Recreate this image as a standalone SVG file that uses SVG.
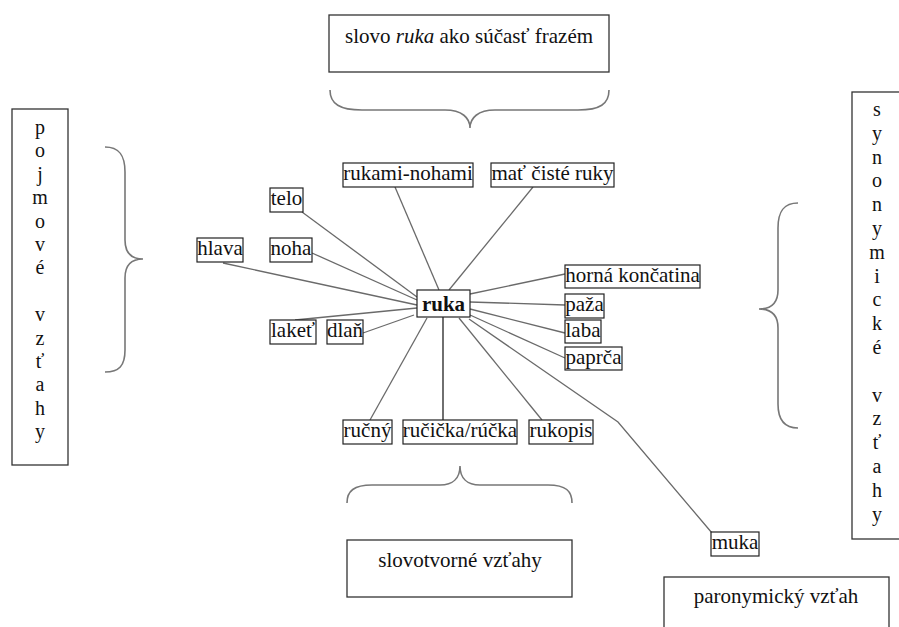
<svg xmlns="http://www.w3.org/2000/svg" width="899" height="627" viewBox="0 0 899 627">
<style>
text{font-size:21px;fill:#111;text-anchor:middle}
.box{fill:#fff;stroke:#222;stroke-width:1.2}
.big{fill:#fff;stroke:#333;stroke-width:1.3}
.ln{stroke:#6a6a6a;stroke-width:1.3;fill:none}
.dk{stroke:#222;stroke-width:1.3;fill:none}
.br{stroke:#777;stroke-width:1.6;fill:none}
.v{font-size:20px}
</style>
<rect width="899" height="627" fill="#fff"/>
<g id="connectors">
<line class="ln" x1="302" y1="212" x2="417" y2="297"/>
<line class="ln" x1="312" y1="253" x2="417" y2="300"/>
<line class="ln" x1="223" y1="263" x2="417" y2="305"/>
<line class="ln" x1="295" y1="320" x2="417" y2="308"/>
<line class="ln" x1="363" y1="333" x2="414" y2="315"/>
<line class="ln" x1="395" y1="187" x2="439" y2="290"/>
<line class="ln" x1="533" y1="187" x2="449" y2="290"/>
<line class="ln" x1="470" y1="294" x2="565" y2="274"/>
<line class="ln" x1="470" y1="302" x2="565" y2="305"/>
<line class="ln" x1="470" y1="309" x2="565" y2="333"/>
<line class="ln" x1="470" y1="315" x2="565" y2="358"/>
<line class="ln" x1="427" y1="318" x2="370" y2="420"/>
<line class="dk" x1="443" y1="317" x2="443" y2="420"/>
<line class="ln" x1="459" y1="318" x2="542" y2="420"/>
<polyline class="ln" points="469,319 618,422 712,533"/>
</g>
<g font-family="'Liberation Serif', 'Times New Roman', 'DejaVu Serif', serif">
<g id="frazem-box">
<rect class="big" x="329" y="15" width="280" height="57"/>
<text x="469" y="43">slovo <tspan font-style="italic">ruka</tspan> ako súčasť frazém</text>
</g>
<g id="brace-top"><path class="br" d="M330,90 C330,104 340,110 362,110 L445,110 C462,110 470,118 470,128 C470,118 478,110 495,110 L578,110 C600,110 609,104 609,90"/></g>
<g id="pojmove-box">
<rect class="big" x="12" y="109" width="56" height="356"/>
<text class="v" x="40" y="134">p</text>
<text class="v" x="40" y="157.4">o</text>
<text class="v" x="40" y="180.8">j</text>
<text class="v" x="40" y="204.2">m</text>
<text class="v" x="40" y="227.6">o</text>
<text class="v" x="40" y="251">v</text>
<text class="v" x="40" y="274.4">é</text>
<text class="v" x="40" y="321.2">v</text>
<text class="v" x="40" y="344.6">z</text>
<text class="v" x="40" y="368">ť</text>
<text class="v" x="40" y="391.4">a</text>
<text class="v" x="40" y="414.8">h</text>
<text class="v" x="40" y="438.2">y</text>
</g>
<g id="brace-left"><path class="br" d="M105,147 C119,147 125,155 125,172 L125,240 C125,253 131,259 143,259 C131,259 125,265 125,278 L125,350 C125,366 119,372 105,372"/></g>
<g id="synonymicke-box">
<rect class="big" x="852" y="92" width="52" height="447"/>
<text class="v" x="877" y="116">s</text>
<text class="v" x="877" y="139.8">y</text>
<text class="v" x="877" y="163.6">n</text>
<text class="v" x="877" y="187.4">o</text>
<text class="v" x="877" y="211.2">n</text>
<text class="v" x="877" y="235">y</text>
<text class="v" x="877" y="258.8">m</text>
<text class="v" x="877" y="282.6">i</text>
<text class="v" x="877" y="306.4">c</text>
<text class="v" x="877" y="330.2">k</text>
<text class="v" x="877" y="354">é</text>
<text class="v" x="877" y="401.6">v</text>
<text class="v" x="877" y="425.4">z</text>
<text class="v" x="877" y="449.2">ť</text>
<text class="v" x="877" y="473">a</text>
<text class="v" x="877" y="496.8">h</text>
<text class="v" x="877" y="520.6">y</text>
</g>
<g id="brace-right"><path class="br" d="M798,203 C784,203 778,211 778,228 L778,290 C778,303 771,309 759,309 C771,309 778,315 778,328 L778,404 C778,420 784,428 798,428"/></g>
<g id="brace-bottom"><path class="br" d="M347,503 C347,491 354,485 372,485 L440,485 C453,485 460,478 460,466 C460,478 467,485 480,485 L548,485 C566,485 572,491 572,503"/></g>
<g id="slovotvorne-box">
<rect class="big" x="347" y="540" width="225" height="57"/>
<text x="460" y="567">slovotvorné vzťahy</text>
</g>
<g id="paronymicky-box">
<rect class="big" x="664" y="577" width="225" height="60"/>
<text x="776" y="603">paronymický vzťah</text>
</g>
<g id="n-rukami-nohami"><rect class="box" x="343" y="163" width="130" height="24"/><text x="408" y="180">rukami-nohami</text></g>
<g id="n-mat-ciste-ruky"><rect class="box" x="491" y="163" width="123" height="24"/><text x="552.5" y="180">mať čisté ruky</text></g>
<g id="n-telo"><rect class="box" x="270" y="188" width="33" height="24"/><text x="286.5" y="205">telo</text></g>
<g id="n-hlava"><rect class="box" x="197" y="238" width="46" height="24"/><text x="220" y="255">hlava</text></g>
<g id="n-noha"><rect class="box" x="270" y="238" width="42" height="24"/><text x="291" y="255">noha</text></g>
<g id="n-ruka"><rect class="box" x="417" y="290" width="53" height="27" stroke-width="1.5"/><text x="443.5" y="311" font-weight="bold" font-size="23">ruka</text></g>
<g id="n-horna-koncatina"><rect class="box" x="565" y="265" width="135" height="23"/><text x="632.5" y="282">horná končatina</text></g>
<g id="n-paza"><rect class="box" x="565" y="294" width="39" height="24"/><text x="584.5" y="311">paža</text></g>
<g id="n-laba"><rect class="box" x="565" y="320" width="36" height="23"/><text x="583" y="337">laba</text></g>
<g id="n-paprca"><rect class="box" x="565" y="347" width="57" height="23"/><text x="593.5" y="364">paprča</text></g>
<g id="n-laket"><rect class="box" x="270" y="320" width="46" height="24"/><text x="293" y="337">lakeť</text></g>
<g id="n-dlan"><rect class="box" x="327" y="320" width="36" height="24"/><text x="345" y="337">dlaň</text></g>
<g id="n-rucny"><rect class="box" x="343" y="420" width="49" height="24"/><text x="367.5" y="437">ručný</text></g>
<g id="n-rucicka"><rect class="box" x="403" y="420" width="114" height="24"/><text x="460" y="437">ručička/rúčka</text></g>
<g id="n-rukopis"><rect class="box" x="529" y="420" width="64" height="24"/><text x="561" y="437">rukopis</text></g>
<g id="n-muka"><rect class="box" x="711" y="532" width="48" height="24"/><text x="735" y="549">muka</text></g>
</g>
</svg>
